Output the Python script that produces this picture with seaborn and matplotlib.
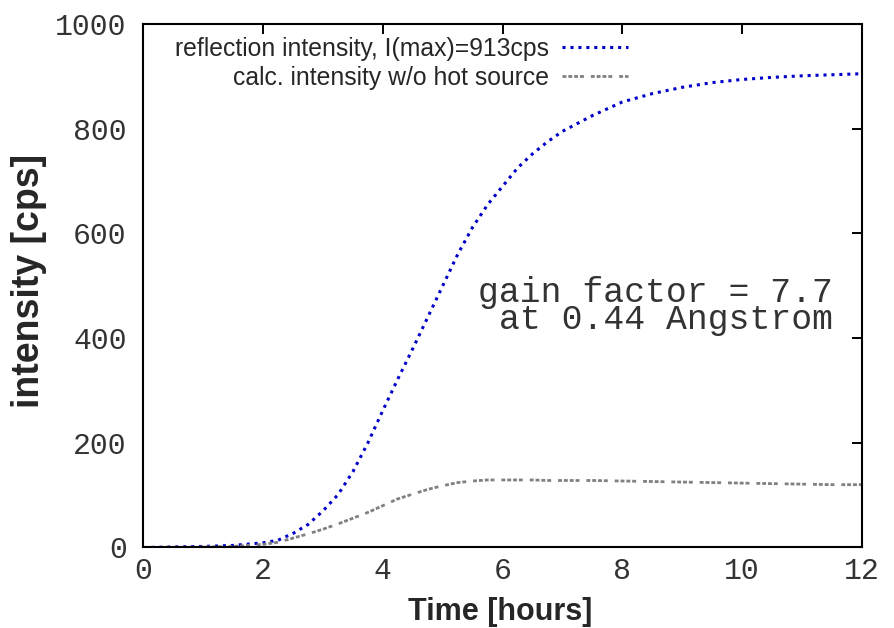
import pandas as pd
import matplotlib.pyplot as plt
import seaborn as sns

hours = [0.0, 0.5, 1.0, 1.5, 2.0, 2.25, 2.5, 2.75, 3.0, 3.25, 3.5, 3.75, 4.0,
         4.25, 4.5, 4.75, 5.0, 5.25, 5.5, 5.75, 6.0, 6.25, 6.5, 6.75, 7.0,
         7.5, 8.0, 8.5, 9.0, 9.5, 10.0, 10.5, 11.0, 11.5, 12.0]
reflection = [0, 1, 2, 4, 9, 14, 27, 44, 70, 101, 145, 200, 262,
              322, 380, 440, 500, 560, 612, 655, 690, 725, 752, 775, 795,
              825, 851, 867, 879, 888, 894, 898, 901, 903, 905]
calc_no_hot = [0, 0, 1, 2, 6, 10, 18, 26, 35, 45, 56, 67, 80,
               93, 102, 111, 118, 124, 127, 129, 129, 129, 129, 128, 128,
               128, 127, 126, 125, 124, 123, 122, 121, 120, 120]

df = pd.DataFrame({'hours': hours, 'reflection': reflection, 'calc': calc_no_hot})

sns.set_theme(style='white')
plt.rcParams['font.family'] = ['Liberation Sans', 'DejaVu Sans']

fig = plt.figure(figsize=(8.94, 6.28), dpi=100)
ax = fig.add_axes([0.1605, 0.1282, 0.8034, 0.8336])

sns.lineplot(data=df, x='hours', y='reflection', ax=ax, color='#0000c8',
             linewidth=2.2, linestyle=(0, (1, 1.6)),
             label='reflection intensity, I(max)=913cps')
sns.lineplot(data=df, x='hours', y='calc', ax=ax, color='#808080',
             linewidth=2.0, linestyle=(0, (1.4, 0.7, 1.4, 0.7, 1.4, 0.7, 1.4, 2.5)),
             label='calc. intensity w/o hot source')

ax.set_xlim(0, 12)
ax.set_ylim(0, 1000)
ax.set_xticks([0, 2, 4, 6, 8, 10, 12])
ax.set_yticks([0, 200, 400, 600, 800, 1000])

for s in ax.spines.values():
    s.set_visible(True)
    s.set_color('black')
    s.set_linewidth(1.5)

ax.tick_params(direction='in', length=7, width=1.4, color='black',
               top=True, right=True, labelsize=21.5, labelcolor='#333333')
ax.tick_params(axis='y', pad=12)
ax.tick_params(axis='x', pad=7)
for lab in ax.get_xticklabels() + ax.get_yticklabels():
    lab.set_family('Liberation Mono')

ax.set_xlabel('Time [hours]', fontsize=22, fontweight='bold', va='bottom')
ax.xaxis.set_label_coords(0.496, -0.1519)
ax.set_ylabel('intensity [cps]', fontsize=27, fontweight='bold', va='center')
ax.yaxis.set_label_coords(-0.159, 0.51)

ax.text(11.52, 418, 'gain factor = 7.7\nat 0.44 Angstrom', family='Liberation Mono',
        fontsize=25, ha='right', va='baseline', multialignment='right',
        linespacing=0.74, color='#333333')

ax.legend(loc='upper right', bbox_to_anchor=(0.6746, 0.975), frameon=False,
          markerfirst=False, fontsize=17.8, handlelength=2.65, handletextpad=0.55,
          labelspacing=0.2, borderpad=0, borderaxespad=0)

plt.savefig('out.png', dpi=100)
